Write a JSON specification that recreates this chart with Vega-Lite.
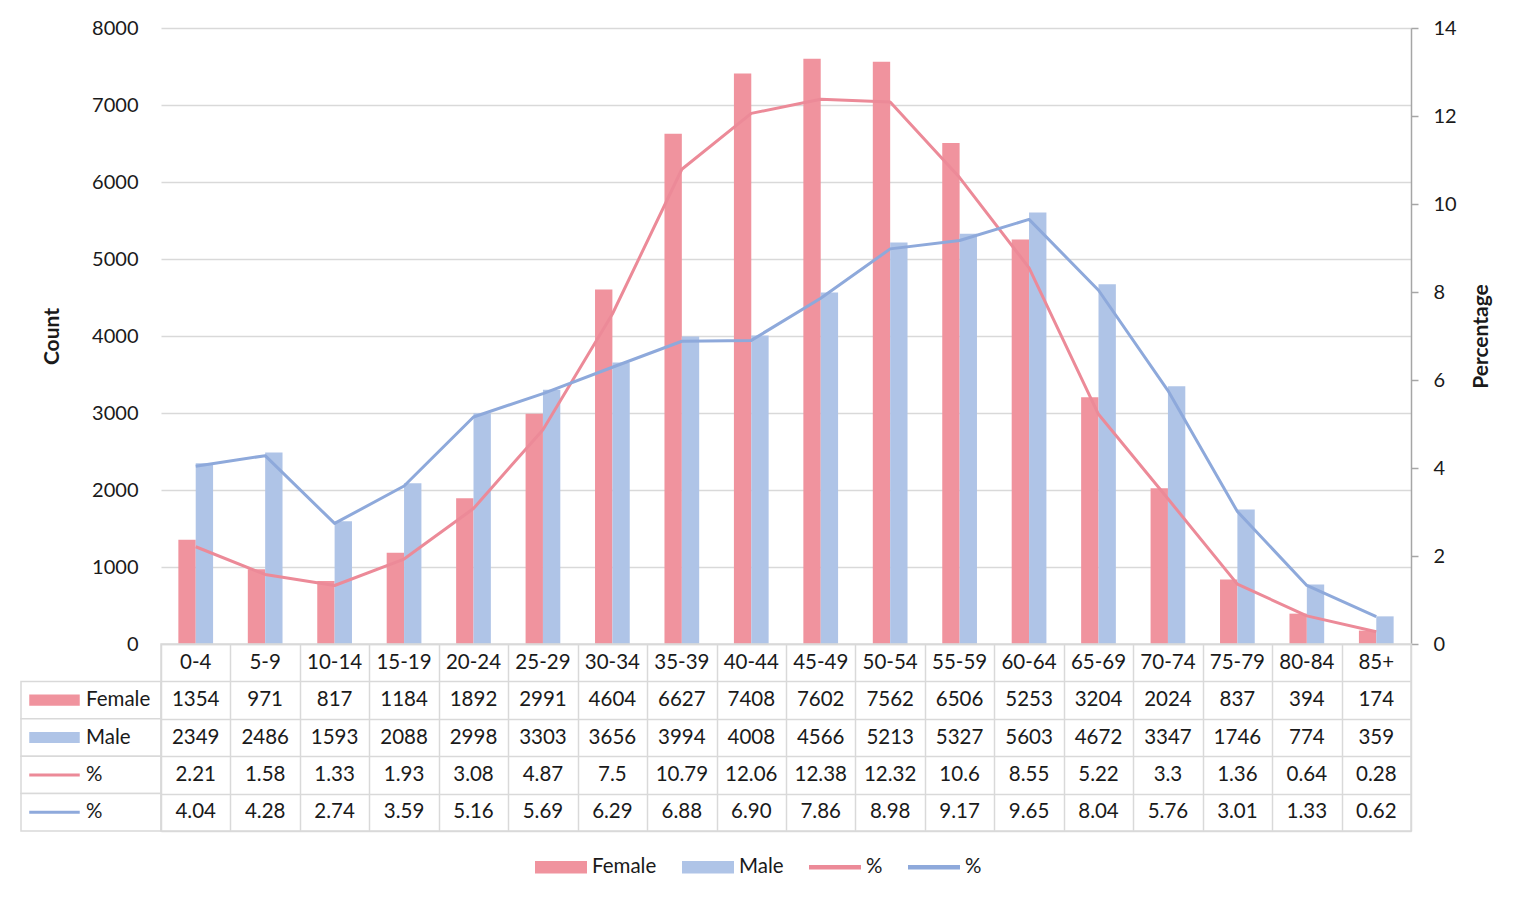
{
  "$schema": "https://vega.github.io/schema/vega-lite/v6.json",
  "padding": {"left": 20, "top": 18, "right": 5, "bottom": 5},
  "autosize": {"type": "pad"},
  "config": {
    "font": "Lato",
    "view": {"stroke": null},
    "axis": {"labelFont": "Lato", "titleFont": "Lato", "labelColor": "#1a1a1a", "titleColor": "#1a1a1a"},
    "text": {"font": "Lato", "color": "#1a1a1a"}
  },
  "datasets": {
    "ages": [
      {"age": "0-4", "Female": 1354, "Male": 2349, "Female %": 2.21, "Male %": 4.04},
      {"age": "5-9", "Female": 971, "Male": 2486, "Female %": 1.58, "Male %": 4.28},
      {"age": "10-14", "Female": 817, "Male": 1593, "Female %": 1.33, "Male %": 2.74},
      {"age": "15-19", "Female": 1184, "Male": 2088, "Female %": 1.93, "Male %": 3.59},
      {"age": "20-24", "Female": 1892, "Male": 2998, "Female %": 3.08, "Male %": 5.16},
      {"age": "25-29", "Female": 2991, "Male": 3303, "Female %": 4.87, "Male %": 5.69},
      {"age": "30-34", "Female": 4604, "Male": 3656, "Female %": 7.5, "Male %": 6.29},
      {"age": "35-39", "Female": 6627, "Male": 3994, "Female %": 10.79, "Male %": 6.88},
      {"age": "40-44", "Female": 7408, "Male": 4008, "Female %": 12.06, "Male %": 6.90},
      {"age": "45-49", "Female": 7602, "Male": 4566, "Female %": 12.38, "Male %": 7.86},
      {"age": "50-54", "Female": 7562, "Male": 5213, "Female %": 12.32, "Male %": 8.98},
      {"age": "55-59", "Female": 6506, "Male": 5327, "Female %": 10.6, "Male %": 9.17},
      {"age": "60-64", "Female": 5253, "Male": 5603, "Female %": 8.55, "Male %": 9.65},
      {"age": "65-69", "Female": 3204, "Male": 4672, "Female %": 5.22, "Male %": 8.04},
      {"age": "70-74", "Female": 2024, "Male": 3347, "Female %": 3.3, "Male %": 5.76},
      {"age": "75-79", "Female": 837, "Male": 1746, "Female %": 1.36, "Male %": 3.01},
      {"age": "80-84", "Female": 394, "Male": 774, "Female %": 0.64, "Male %": 1.33},
      {"age": "85+", "Female": 174, "Male": 359, "Female %": 0.28, "Male %": 0.62}
    ],
    "rowheads": [
      {"series": "Female", "label": "Female"},
      {"series": "Male", "label": "Male"},
      {"series": "Female %", "label": "%"},
      {"series": "Male %", "label": "%"}
    ]
  },
  "columns": 2,
  "spacing": 0,
  "bounds": "flush",
  "concat": [
    {
      "width": 140,
      "height": 616,
      "data": {"values": [{}]},
      "mark": {"type": "text", "text": ""}
    },
    {
      "width": 1250,
      "height": 616,
      "data": {"name": "ages"},
      "layer": [
        {
          "transform": [{"fold": ["Female", "Male"], "as": ["series", "count"]}],
          "mark": {"type": "bar"},
          "encoding": {
            "x": {
              "field": "age", "type": "nominal",
              "scale": {"domain": ["0-4","5-9","10-14","15-19","20-24","25-29","30-34","35-39","40-44","45-49","50-54","55-59","60-64","65-69","70-74","75-79","80-84","85+"], "paddingInner": 0, "paddingOuter": 0},
              "axis": null
            },
            "xOffset": {"field": "series", "type": "nominal", "scale": {"domain": ["Female", "Male"], "paddingOuter": 1.1, "paddingInner": 0}},
            "y": {
              "field": "count", "type": "quantitative",
              "scale": {"domain": [0, 8000]},
              "axis": {
                "title": "Count", "titleFontSize": 21, "titleFontWeight": "bold", "titlePadding": 29,
                "labelFontSize": 20, "labelPadding": 23, "format": "d",
                "values": [0, 1000, 2000, 3000, 4000, 5000, 6000, 7000, 8000],
                "grid": true, "gridColor": "#d9d9d9", "gridWidth": 1.5,
                "ticks": false, "tickSize": 0, "domain": false
              }
            },
            "color": {
              "field": "series", "type": "nominal",
              "scale": {"domain": ["Female", "Male", "Female %", "Male %"], "range": ["#F0939E", "#AFC4E7", "#EC8A98", "#8EA9DB"]},
              "legend": {
                "orient": "none", "legendX": 514, "legendY": 813,
                "direction": "horizontal", "title": null,
                "labelExpr": "indexof(datum.label, '%') >= 0 ? '%' : datum.label",
                "symbolSize": 2550, "labelFontSize": 20.5, "labelFont": "Lato", "labelColor": "#1a1a1a",
                "labelOffset": 5, "columnPadding": 22, "labelLimit": 300,
                "encode": {
                  "symbols": {
                    "update": {
                      "shape": {"signal": "indexof(datum.value, '%') >= 0 ? 'M-1,-0.06H1V0.06H-1Z' : 'M-1,-0.24H1V0.24H-1Z'"},
                      "fill": {"scale": "color", "field": "value"},
                      "stroke": {"value": "transparent"},
                      "opacity": {"value": 1}
                    }
                  }
                }
              }
            }
          }
        },
        {
          "transform": [{"fold": ["Female %", "Male %"], "as": ["series", "pct"]}],
          "mark": {"type": "line", "strokeWidth": 3, "strokeJoin": "round"},
          "encoding": {
            "x": {"field": "age", "type": "nominal"},
            "y": {
              "field": "pct", "type": "quantitative",
              "scale": {"domain": [0, 14]},
              "axis": {
                "orient": "right", "title": "Percentage", "titleFontSize": 21, "titleFontWeight": "bold",
                "titleAngle": -90, "titleBaseline": "top", "titlePadding": 14,
                "labelFontSize": 20, "labelPadding": 15,
                "values": [0, 2, 4, 6, 8, 10, 12, 14],
                "grid": false, "domain": true, "domainColor": "#a6a6a6", "domainWidth": 1.5,
                "ticks": true, "tickColor": "#a6a6a6", "tickSize": 7, "tickWidth": 1.5
              }
            },
            "color": {"field": "series", "type": "nominal", "legend": null}
          }
        }
      ],
      "resolve": {"scale": {"y": "independent"}}
    },
    {
      "width": 140,
      "height": 187,
      "data": {"name": "rowheads"},
      "encoding": {
        "y": {"field": "series", "type": "nominal", "scale": {"domain": ["hdr", "Female", "Male", "Female %", "Male %"], "paddingInner": 0, "paddingOuter": 0}, "axis": null}
      },
      "layer": [
        {"mark": {"type": "rect", "fill": "white", "stroke": "#d9d9d9", "strokeWidth": 1.5}},
        {
          "mark": {"type": "point", "filled": true, "opacity": 1, "size": 2550, "strokeWidth": 0, "xOffset": -1.5},
          "encoding": {
            "x": {"datum": "sym", "type": "nominal", "scale": {"domain": ["sym", "txt"], "paddingInner": 0, "paddingOuter": 0}, "axis": null},
            "color": {"field": "series", "type": "nominal", "legend": null},
            "shape": {"field": "series", "type": "nominal", "scale": {"domain": ["Female", "Male", "Female %", "Male %"], "range": ["M-1,-0.22H1V0.22H-1Z", "M-1,-0.22H1V0.22H-1Z", "M-1,-0.06H1V0.06H-1Z", "M-1,-0.06H1V0.06H-1Z"]}, "legend": null}
          }
        },
        {
          "mark": {"type": "text", "align": "left", "fontSize": 20.5, "dx": -40},
          "encoding": {
            "x": {"datum": "txt", "type": "nominal"},
            "text": {"field": "label"}
          }
        }
      ]
    },
    {
      "width": 1250,
      "height": 187,
      "view": {"stroke": "#d9d9d9", "strokeWidth": 1.5},
      "data": {"name": "ages"},
      "encoding": {
        "x": {
          "field": "age", "type": "nominal",
          "scale": {"domain": ["0-4","5-9","10-14","15-19","20-24","25-29","30-34","35-39","40-44","45-49","50-54","55-59","60-64","65-69","70-74","75-79","80-84","85+"], "paddingInner": 0, "paddingOuter": 0},
          "axis": {"orient": "top", "grid": true, "tickBand": "extent", "labels": false, "ticks": false, "domain": false, "title": null, "gridColor": "#d9d9d9", "gridWidth": 1.5}
        }
      },
      "layer": [
        {
          "transform": [{"fold": ["Female", "Male", "Female %"], "as": ["series", "value"]}],
          "mark": {"type": "text", "fontSize": 20.5},
          "encoding": {
            "y": {
              "field": "series", "type": "nominal",
              "scale": {"domain": ["hdr", "Female", "Male", "Female %", "Male %"], "paddingInner": 0, "paddingOuter": 0},
              "axis": {"grid": true, "tickBand": "extent", "labels": false, "ticks": false, "domain": false, "title": null, "gridColor": "#d9d9d9", "gridWidth": 1.5}
            },
            "text": {"field": "value", "type": "nominal"}
          }
        },
        {
          "mark": {"type": "text", "fontSize": 20.5},
          "encoding": {
            "y": {"datum": "hdr", "type": "nominal"},
            "text": {"field": "age"}
          }
        },
        {
          "transform": [{"fold": ["Male %"], "as": ["series", "value"]}],
          "mark": {"type": "text", "fontSize": 20.5},
          "encoding": {
            "y": {"field": "series", "type": "nominal"},
            "text": {"field": "value", "type": "quantitative", "format": ".2f"}
          }
        }
      ]
    }
  ]
}
